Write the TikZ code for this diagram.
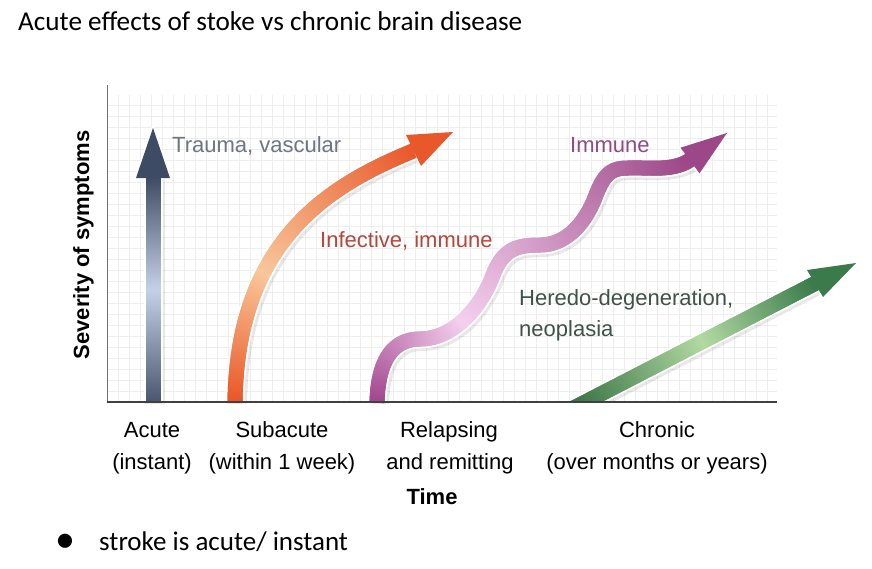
\documentclass[tikz,border=0pt]{standalone}
\usepackage{fontspec}
\setmainfont{Carlito}
\newfontfamily\chartfont{Liberation Sans}
\usetikzlibrary{decorations.markings}

\definecolor{blueD}{HTML}{48576F}
\definecolor{blueL}{HTML}{C4D2E8}
\definecolor{blueT}{HTML}{3E4B64}
\definecolor{orgD}{HTML}{EA5526}
\definecolor{orgL}{HTML}{F8C79A}
\definecolor{orgT}{HTML}{E9582B}
\definecolor{magD}{HTML}{A2458C}
\definecolor{magL}{HTML}{F4D0EE}
\definecolor{magT}{HTML}{9C4787}
\definecolor{grnD}{HTML}{2F6A3D}
\definecolor{grnL}{HTML}{B2DAA2}
\definecolor{grnT}{HTML}{3A7A4B}
\definecolor{txtTrauma}{HTML}{6E7585}
\definecolor{txtInf}{HTML}{B4473A}
\definecolor{txtImm}{HTML}{924A86}
\definecolor{txtHer}{HTML}{3F5247}
\definecolor{gridc}{HTML}{EEEEEE}

\tikzset{
  band/.style n args={5}{
    postaction={decorate},
    decoration={markings,
      mark=between positions 0 and 1 step 1pt with {%
        \pgfmathsetmacro\gfr{\pgfkeysvalueof{/pgf/decoration/mark info/distance from start}/\pgfdecoratedpathlength}%
        \pgfmathsetmacro\gmx{\gfr<#5 ? 100*\gfr/#5 : 100*(1-\gfr)/(1-#5)}%
        \pgfmathsetmacro\gmx{max(0,min(100,\gmx))}%
        \pgfmathtruncatemacro\gside{\gfr<#5 ? 1 : 0}%
        \ifnum\gside>0 \colorlet{gcol}{#3!\gmx!#2}\else\colorlet{gcol}{#3!\gmx!#4}\fi
        \fill[gcol] (-1.1,-#1/2) rectangle (1.1,#1/2);
      }}},
  halo/.style={draw=white, line width=19,
    preaction={draw=black, opacity=.09, line width=21, transform canvas={shift={(1.5,1.5)}}}},
  headhalo/.style={draw=white, fill=white, line width=3, line join=round},
  gridline/.style={draw=gridc, line width=0.4},
  axisline/.style={draw=black!75, line width=1.3},
  vaxisline/.style={draw=black!55, line width=1},
  chart/.style={font=\chartfont\fontsize{22}{26}\selectfont, inner sep=0},
  lbl/.style={chart, anchor=base},
  capt/.style={chart, anchor=base west},
}

\begin{document}
\begin{tikzpicture}[x=1pt,y=-1pt]
\useasboundingbox (0,0) rectangle (872,568);
\fill[white] (0,0) rectangle (872,568);

% title
\node[anchor=base west, inner sep=0] (title) at (18,30)
  {\fontsize{27.2}{32}\selectfont Acute effects of stoke vs chronic brain disease};

% grid
\foreach \gx in {118,129,...,777} \draw[gridline] (\gx,95) -- (\gx,402);
\foreach \gy in {391,380,...,96} \draw[gridline] (107,\gy) -- (777,\gy);

% blue arrow (acute)
\path[halo] (153,402) -- (153,177);
\path[headhalo] (136,178) -- (153,128) -- (170,178) -- cycle;
\path[band={15}{blueD}{blueL}{blueT}{0.5}] (153,402) -- (153,177);
\fill[blueT] (136,178) -- (153,128) -- (170,178) -- cycle;

% orange arrow (subacute)
\path[halo] (235,402) .. controls (237,240) and (330,185) .. (413,151);
\path[headhalo] (406,135) -- (453,132) -- (421,166) -- cycle;
\path[band={15}{orgD}{orgL}{orgT}{0.4}] (235,402) .. controls (237,240) and (330,185) .. (413,151);
\fill[orgT] (406,135) -- (453,132) -- (421,166) -- cycle;

% magenta wave (relapsing)
\path[halo] (377,402) .. controls (378,365) and (390,339) .. (420,339)
  .. controls (455,339) and (482,305) .. (493,275)
  .. controls (503,250) and (515,245) .. (540,245)
  .. controls (565,245) and (585,225) .. (596,195)
  .. controls (604,175) and (610,168) .. (628,168)
  .. controls (645,167) and (673,172) .. (690,160);
\path[headhalo] (680.5,147.7) -- (727,133) -- (699.5,173.3) -- cycle;
\path[band={15}{magD}{magL}{magT}{0.3}] (377,402) .. controls (378,365) and (390,339) .. (420,339)
  .. controls (455,339) and (482,305) .. (493,275)
  .. controls (503,250) and (515,245) .. (540,245)
  .. controls (565,245) and (585,225) .. (596,195)
  .. controls (604,175) and (610,168) .. (628,168)
  .. controls (645,167) and (673,172) .. (690,160);
\fill[magT] (680.5,147.7) -- (727,133) -- (699.5,173.3) -- cycle;

% green arrow (chronic)
\begin{scope}
\clip (107,60) rectangle (872,402.3);
\path[halo] (566,412) -- (815,283.5);
\path[headhalo] (807,270) -- (856,263) -- (823,297) -- cycle;
\path[band={15}{grnD}{grnL}{grnT}{0.55}] (566,412) -- (815,283.5);
\fill[grnT] (807,270) -- (856,263) -- (823,297) -- cycle;
\end{scope}

% axes
\draw[vaxisline] (107,85) -- (107,402);
\draw[axisline] (107,402) -- (777,402);

% axis title
\node[chart, font=\chartfont\bfseries\fontsize{22}{26}\selectfont, rotate=90, anchor=base] (ylab) at (89,245) {Severity of symptoms};

% curve labels
\node[capt, text=txtTrauma] (ltrauma) at (172,152) {Trauma, vascular};
\node[capt, text=txtInf] (linf) at (320,247) {Infective, immune};
\node[capt, text=txtImm] (limm) at (570,152) {Immune};
\node[capt, text=txtHer] (lher1) at (519,305) {Heredo-degeneration,};
\node[capt, text=txtHer] (lher2) at (519,336) {neoplasia};

% time labels
\node[lbl] (t1a) at (152,437) {Acute};
\node[lbl] (t1b) at (152,469) {(instant)};
\node[lbl] (t2a) at (282,437) {Subacute};
\node[lbl] (t2b) at (282,469) {(within 1 week)};
\node[lbl] (t3a) at (449,437) {Relapsing};
\node[lbl] (t3b) at (450,469) {and remitting};
\node[lbl] (t4a) at (657,437) {Chronic};
\node[lbl] (t4b) at (657,469) {(over months or years)};
\node[lbl, font=\chartfont\bfseries\fontsize{22}{26}\selectfont] (time) at (432,504) {Time};

% bullet
\node[inner sep=0] (bul) at (65,543) {\fontsize{40}{40}\selectfont •};
\node[anchor=base west, inner sep=0] (btxt) at (99,550)
  {\fontsize{27}{32}\selectfont stroke is acute/ instant};
\end{tikzpicture}
\end{document}
